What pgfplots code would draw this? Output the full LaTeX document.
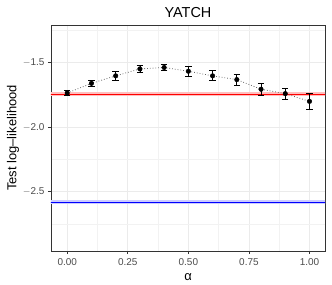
\documentclass[border=0pt]{standalone}
\usepackage{pgfplots}
\pgfplotsset{compat=1.18}
\usepackage{fontspec}
\setmainfont{Liberation Sans}
\definecolor{gridmaj}{gray}{0.92}
\definecolor{gridmin}{gray}{0.95}
\definecolor{frame}{gray}{0.2}
\definecolor{ticklab}{gray}{0.3}
\begin{document}
\begin{tikzpicture}
\begin{axis}[
  scale only axis,
  width=274bp, height=226bp,
  xmin=-0.067, xmax=1.064,
  ymin=-2.961, ymax=-1.206,
  xtick={0,0.25,0.5,0.75,1},
  xticklabels={0.00,0.25,0.50,0.75,1.00},
  ytick={-2.5,-2,-1.5},
  yticklabels={$-$2.5,$-$2.0,$-$1.5},
  minor xtick={0.125,0.375,0.625,0.875},
  minor ytick={-2.75,-2.25,-1.75,-1.25},
  grid=both,
  major grid style={gridmaj, line width=0.8bp},
  minor grid style={gridmin, line width=0.5bp},
  axis line style={frame, line width=0.8bp},
  tick style={frame, line width=0.8bp},
  tick align=outside,
  major tick length=3bp,
  minor tick length=0pt,
  xtick pos=bottom, ytick pos=left,
  tick label style={font=\fontsize{10}{12}\selectfont, text=ticklab},
  xticklabel style={yshift=-1.5bp},
  title={YATCH},
  title style={font=\fontsize{14.5}{16}\selectfont, yshift=-2bp},
  xlabel={α},
  ylabel={Test log–likelihood},
  label style={font=\fontsize{13}{15}\selectfont},
  xlabel style={yshift=-1bp},
  ylabel style={yshift=-3bp},
  clip=true,
]
% ribbons
\addplot[red!25, line width=4bp, forget plot] coordinates {(-0.2,-1.745) (1.2,-1.745)};
\addplot[blue!20, line width=4bp, forget plot] coordinates {(-0.2,-2.584) (1.2,-2.584)};
\addplot[red, line width=1.2bp, forget plot] coordinates {(-0.2,-1.745) (1.2,-1.745)};
\addplot[blue, line width=1.2bp, forget plot] coordinates {(-0.2,-2.584) (1.2,-2.584)};
% dotted connecting line
\addplot[gray!80!black, dotted, line width=0.8bp, forget plot] coordinates {
(0.0,-1.734) (0.1,-1.659) (0.2,-1.601) (0.3,-1.547) (0.4,-1.536) (0.5,-1.565)
(0.6,-1.601) (0.7,-1.630) (0.8,-1.705) (0.9,-1.739) (1.0,-1.799)};
% points with error bars
\addplot[only marks, mark=*, mark size=2.3bp, black,
  error bars/.cd, y dir=both, y explicit,
  error bar style={black, line width=0.8bp},
  error mark options={black, rotate=90, mark size=3.2bp, line width=0.8bp}]
  coordinates {
(0.0,-1.734) +- (0,0.020)
(0.1,-1.659) +- (0,0.022)
(0.2,-1.601) +- (0,0.035)
(0.3,-1.547) +- (0,0.028)
(0.4,-1.536) +- (0,0.026)
(0.5,-1.565) +- (0,0.038)
(0.6,-1.601) +- (0,0.039)
(0.7,-1.630) +- (0,0.043)
(0.8,-1.705) +- (0,0.044)
(0.9,-1.739) +- (0,0.042)
(1.0,-1.799) +- (0,0.059)
};
\end{axis}
\pgfresetboundingbox
\path ([shift={(-51bp,-34bp)}]current axis.south west) rectangle ([shift={(7bp,25bp)}]current axis.north east);
\end{tikzpicture}
\end{document}
